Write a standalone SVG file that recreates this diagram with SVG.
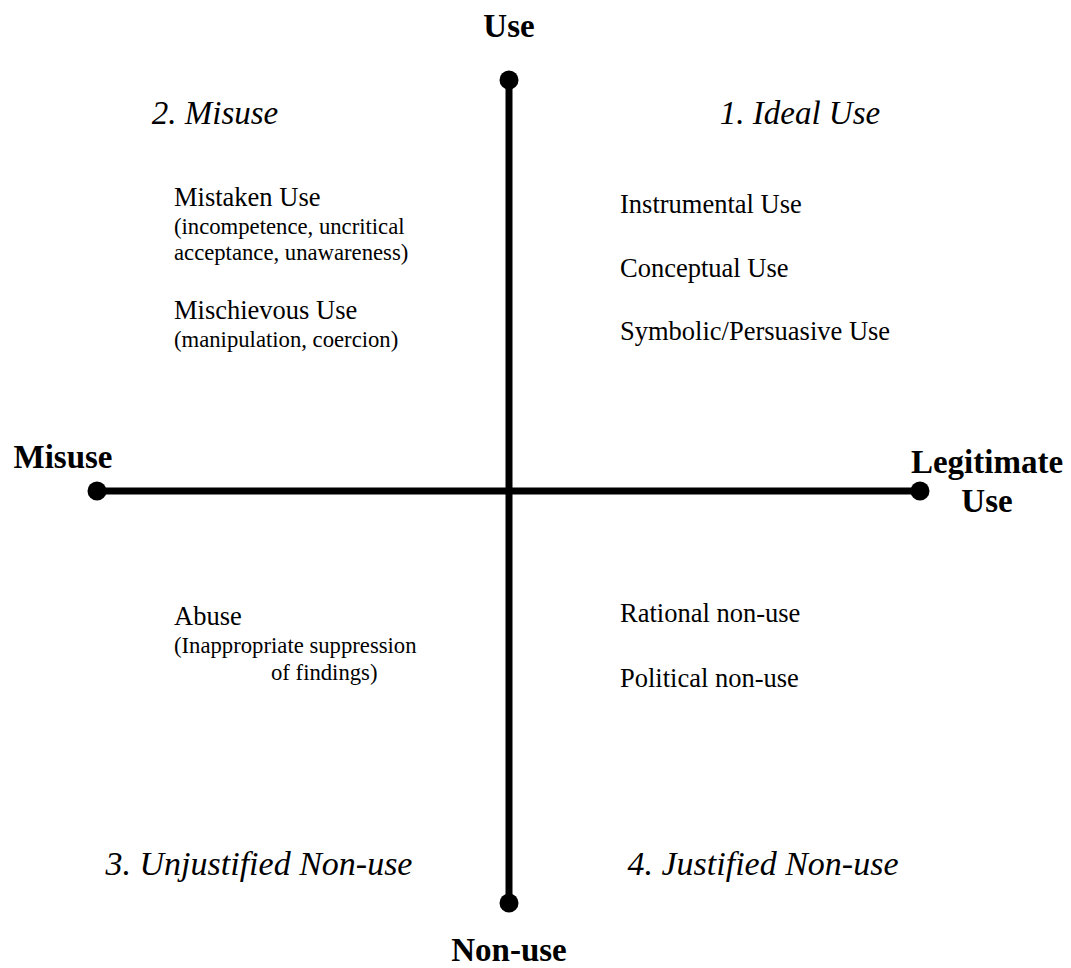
<svg xmlns="http://www.w3.org/2000/svg" width="1071" height="968" viewBox="0 0 1071 968">
<style>
.axis{stroke:#000;stroke-width:7;fill:none}
.dot{fill:#000}
.pole{font-family:"Liberation Serif",serif;font-weight:bold;font-size:33px;fill:#000;text-anchor:middle}
.quad{font-family:"Liberation Serif",serif;font-style:italic;font-size:33px;fill:#000;text-anchor:middle}
.item{font-family:"Liberation Serif",serif;font-size:26.5px;fill:#000}
.sub{font-family:"Liberation Serif",serif;font-size:22.7px;fill:#000}
</style>
<rect width="1071" height="968" fill="#fff"/>
<g id="connectors">
<line class="axis" x1="509" y1="80" x2="509" y2="903"/>
<line class="axis" x1="97" y1="491" x2="920" y2="491"/>
<circle class="dot" cx="509" cy="80" r="9.5"/>
<circle class="dot" cx="509" cy="903" r="9.5"/>
<circle class="dot" cx="97" cy="491" r="9.5"/>
<circle class="dot" cx="920" cy="491" r="9.5"/>
</g>
<g id="pole-use"><text class="pole" x="509" y="37">Use</text></g>
<g id="pole-nonuse"><text class="pole" x="509" y="961">Non-use</text></g>
<g id="pole-misuse"><text class="pole" x="63" y="468">Misuse</text></g>
<g id="pole-legit"><text class="pole" x="987" y="473">Legitimate</text><text class="pole" x="987" y="512">Use</text></g>
<g id="q1"><text class="quad" x="800" y="124">1. Ideal Use</text>
<text class="item" x="620" y="213">Instrumental Use</text>
<text class="item" x="620" y="277">Conceptual Use</text>
<text class="item" x="620" y="340">Symbolic/Persuasive Use</text></g>
<g id="q2"><text class="quad" x="215" y="124">2. Misuse</text>
<text class="item" x="174" y="206">Mistaken Use</text>
<text class="sub" x="174" y="234">(incompetence, uncritical</text>
<text class="sub" x="174" y="260">acceptance, unawareness)</text>
<text class="item" x="174" y="319">Mischievous Use</text>
<text class="sub" x="174" y="347">(manipulation, coercion)</text></g>
<g id="q3"><text class="quad" x="259" y="875" style="font-size:34px">3. Unjustified Non-use</text>
<text class="item" x="174" y="625">Abuse</text>
<text class="sub" x="174" y="653">(Inappropriate suppression</text>
<text class="sub" x="271" y="680">of findings)</text></g>
<g id="q4"><text class="quad" x="763" y="875" style="font-size:34px">4. Justified Non-use</text>
<text class="item" x="620" y="622">Rational non-use</text>
<text class="item" x="620" y="687">Political non-use</text></g>
</svg>
